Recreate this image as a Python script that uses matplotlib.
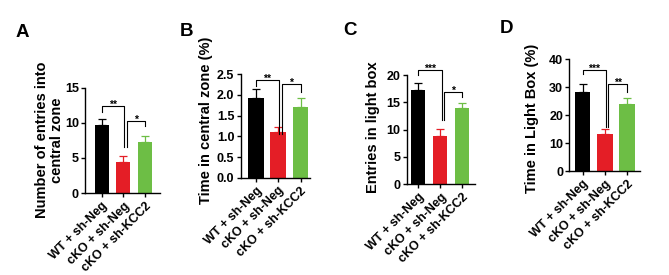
import matplotlib
matplotlib.use('Agg')
import matplotlib.pyplot as plt

plt.rcParams['font.family'] = ['Liberation Sans', 'DejaVu Sans']
plt.rcParams['font.weight'] = 'bold'

# groups and colours
groups = ['WT + sh-Neg', 'cKO + sh-Neg', 'cKO + sh-KCC2']
colors = ['#000000', '#e41e26', '#6dbe45']

# panel A: entries into central zone
a_mean = [9.7, 4.4, 7.2]
a_err = [0.9, 0.8, 0.85]
# panel B: time in central zone (%)
b_mean = [1.92, 1.10, 1.72]
b_err = [0.23, 0.12, 0.20]
# panel C: entries in light box
c_mean = [17.2, 8.8, 13.9]
c_err = [1.4, 1.25, 1.05]
# panel D: time in light box (%)
d_mean = [28.3, 13.1, 23.9]
d_err = [2.7, 1.8, 2.1]

# significance brackets: (x left, x right, y top, y left end, y right end, stars)
a_sig = [(0, 1.03, 12.4, 11.5, 6.6, '**'), (1.15, 2, 10.2, 6.6, 9.6, '*')]
b_sig = [(0, 1.03, 2.36, 2.22, 1.05, '**'), (1.15, 2, 2.26, 1.05, 2.06, '*')]
c_sig = [(0, 1.08, 20.9, 20.0, 11.8, '***'), (1.15, 2, 16.9, 11.8, 16.0, '*')]
d_sig = [(0, 1.03, 36.1, 34.5, 15.8, '***'), (1.15, 2, 31.1, 15.8, 28.3, '**')]

W, H = 669, 275

def px_axes(fig, left, right, top, bottom):
    return fig.add_axes([left / W, 1 - bottom / H, (right - left) / W, (bottom - top) / H])

def painel(ax, media, erro, sig, ymax, ystep, xlim, largura):
    x = range(len(groups))
    ax.bar(x, media, width=largura, color=colors, zorder=2)
    for i in x:
        ax.errorbar(i, media[i], yerr=[[0], [erro[i]]], fmt='none', ecolor=colors[i],
                    elinewidth=0.9, capsize=2.8, capthick=0.9, zorder=1)
    for x1, x2, y, y1, y2, txt in sig:
        ax.plot([x1, x1, x2, x2], [y1, y, y, y2], color='black', lw=0.8,
                clip_on=False, zorder=3)
        ax.annotate(txt, ((x1 + x2) / 2, y), xytext=(0, -1.3), textcoords='offset points',
                    ha='center', va='baseline', fontsize=7.5, fontweight='bold',
                    annotation_clip=False)
    ax.set_xlim(*xlim)
    ax.set_ylim(0, ymax)
    ax.set_yticks([i * ystep for i in range(int(round(ymax / ystep)) + 1)])
    if ystep < 1:
        ax.set_yticklabels([f'{t:.1f}' for t in ax.get_yticks()])
    ax.set_xticks(list(x))
    ax.set_xticklabels(groups, rotation=45, ha='right', rotation_mode='anchor', fontsize=9.5)
    for s in ['top', 'right']:
        ax.spines[s].set_visible(False)
    for s in ['left', 'bottom']:
        ax.spines[s].set_linewidth(1.0)
    ax.tick_params(axis='both', direction='out', length=3, width=1.0, pad=1.5,
                   labelsize=9)
    ax.tick_params(axis='x', pad=2)

fig = plt.figure(figsize=(W / 100, H / 100), dpi=100)

ax_a = px_axes(fig, 85, 160, 87.7, 193)
painel(ax_a, a_mean, a_err, a_sig, 15, 5, (-0.77, 2.69), 0.65)
ax_b = px_axes(fig, 240.7, 310, 74.3, 177.7)
painel(ax_b, b_mean, b_err, b_sig, 2.5, 0.5, (-0.68, 2.42), 0.7)
ax_c = px_axes(fig, 406.7, 475, 75, 184.3)
painel(ax_c, c_mean, c_err, c_sig, 20, 5, (-0.53, 2.58), 0.65)
ax_d = px_axes(fig, 569.3, 640, 59, 171)
painel(ax_d, d_mean, d_err, d_sig, 40, 10, (-0.6, 2.57), 0.7)

def ftext(x, y, s, **kw):
    fig.text(x / W, 1 - y / H, s, **kw)

# y labels
lab = dict(rotation=90, ha='center', va='center', fontsize=10.5, fontweight='bold')
ftext(49.5, 140, 'Number of entries into\ncentral zone', linespacing=1.15, **lab)
ftext(206, 120, 'Time in central zone (%)', **lab)
ftext(373, 127, 'Entries in light box', **lab)
ftext(532, 118, 'Time in Light Box (%)', **lab)

# panel letters
let = dict(ha='left', va='baseline', fontsize=13.5, fontweight='bold')
ftext(16, 37, 'A', **let)
ftext(180, 36, 'B', **let)
ftext(343, 35, 'C', **let)
ftext(500, 33, 'D', **let)

fig.savefig('out.png', dpi=100)
